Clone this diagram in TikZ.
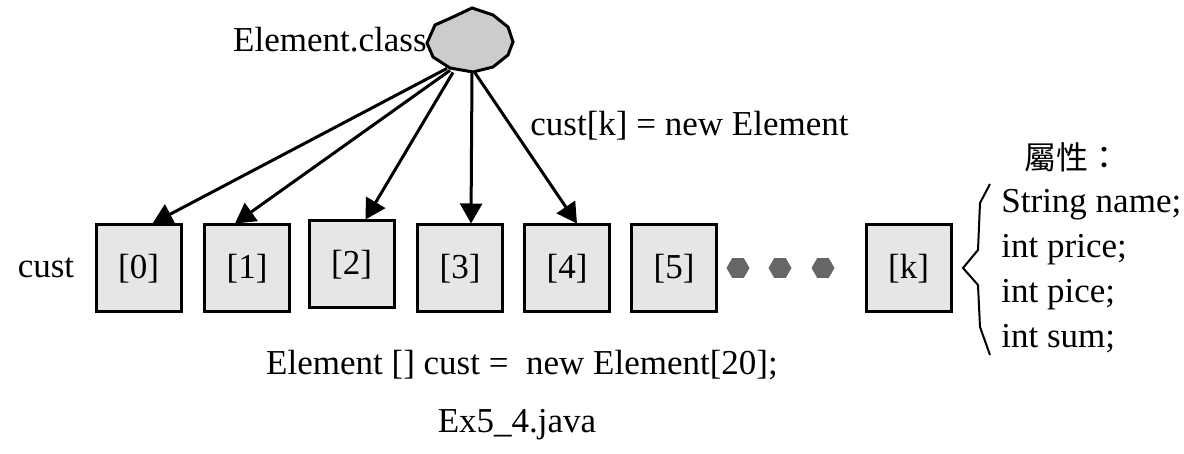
\documentclass[tikz,border=0pt]{standalone}
\usepackage{fontspec}
\setmainfont{Liberation Serif}
\newfontfamily\cjk{Noto Sans CJK TC}
\usetikzlibrary{arrows.meta,shapes.geometric}
\definecolor{octfill}{RGB}{204,204,204}
\definecolor{boxfill}{RGB}{230,230,230}
\definecolor{dotfill}{RGB}{102,102,102}
\tikzset{
  cell/.style={draw, line width=1.5pt, fill=boxfill, minimum width=42.5pt, minimum height=43.5pt, inner sep=0pt, font=\fontsize{17.5}{21}\selectfont},
  txt/.style={inner sep=0pt, font=\fontsize{17.5}{21}\selectfont},
  dotmark/.style={regular polygon, regular polygon sides=6, fill=dotfill, minimum size=11.5pt, inner sep=0pt},
  arr/.style={line width=1.5pt, -{Triangle[length=10pt,width=11pt]}},
}
\begin{document}
\begin{tikzpicture}[x=0.5pt,y=-0.5pt]
\useasboundingbox (0,0) rectangle (1184,454);
% class octagon
\node[ellipse, minimum width=43pt, minimum height=32.5pt, inner sep=0pt] (cls) at (470,40) {};
\draw[line width=1.5pt, fill=octfill] (453,17) -- (472,8) -- (493,15) -- (508,27) -- (513,42) -- (508,55) -- (493,67) -- (473,72) -- (450,68) -- (433,57) -- (427,43) -- (435,25) -- cycle;
\node[txt, anchor=base east] (clsname) at (427,52) {Element.class};
% cells
\node[cell] (b0) at (138.5,268.5) {[0]};
\node[cell] (b1) at (247,268.5) {[1]};
\node[cell] (b2) at (351.5,264.5) {[2]};
\node[cell] (b3) at (460,268.5) {[3]};
\node[cell] (b4) at (567,268.5) {[4]};
\node[cell] (b5) at (674,268.5) {[5]};
\node[cell] (bk) at (908.5,268.5) {[k]};
\node[dotmark] (d1) at (738,268) {};
\node[dotmark] (d2) at (780,268) {};
\node[dotmark] (d3) at (823,268) {};
\node[txt] (cust) at (46,268) {cust};
% arrows
\draw[arr] ([shift={(-11.5pt,2.25pt)}]cls.south) -- ([xshift=7pt]b0.north);
\draw[arr] ([shift={(-10pt,1.25pt)}]cls.south) -- ([xshift=-6pt]b1.north);
\draw[arr] ([shift={(-8.5pt,0.25pt)}]cls.south) -- ([xshift=7pt]b2.north);
\draw[arr] ([shift={(1pt,0pt)}]cls.south) -- ([xshift=5.5pt]b3.north);
\draw[arr] ([shift={(2.5pt,0pt)}]cls.south) -- ([xshift=5pt]b4.north);
\node[txt, anchor=base west] (newlbl) at (530,136) {cust[k] = new Element};
% attributes
\node[inner sep=0pt, anchor=west, font=\cjk\fontsize{16}{19}\selectfont] (attr) at (1024,157) {屬性：};
\node[txt, anchor=base west] (a1) at (1001,213) {String name;};
\node[txt, anchor=base west] (a2) at (1001,258) {int price;};
\node[txt, anchor=base west] (a3) at (1001,303) {int pice;};
\node[txt, anchor=base west] (a4) at (1001,348) {int sum;};
\draw[line width=1pt, line join=miter] (990,184) -- (980,203) -- (978,250) -- (963,268) -- (978,285) -- (980,327) -- (990,355);
% bottom text
\node[txt, anchor=base] (decl) at (522,375) {Element [] cust = \ new Element[20];};
\node[txt, anchor=base] (file) at (517,432) {Ex5\_4.java};
\end{tikzpicture}
\end{document}
